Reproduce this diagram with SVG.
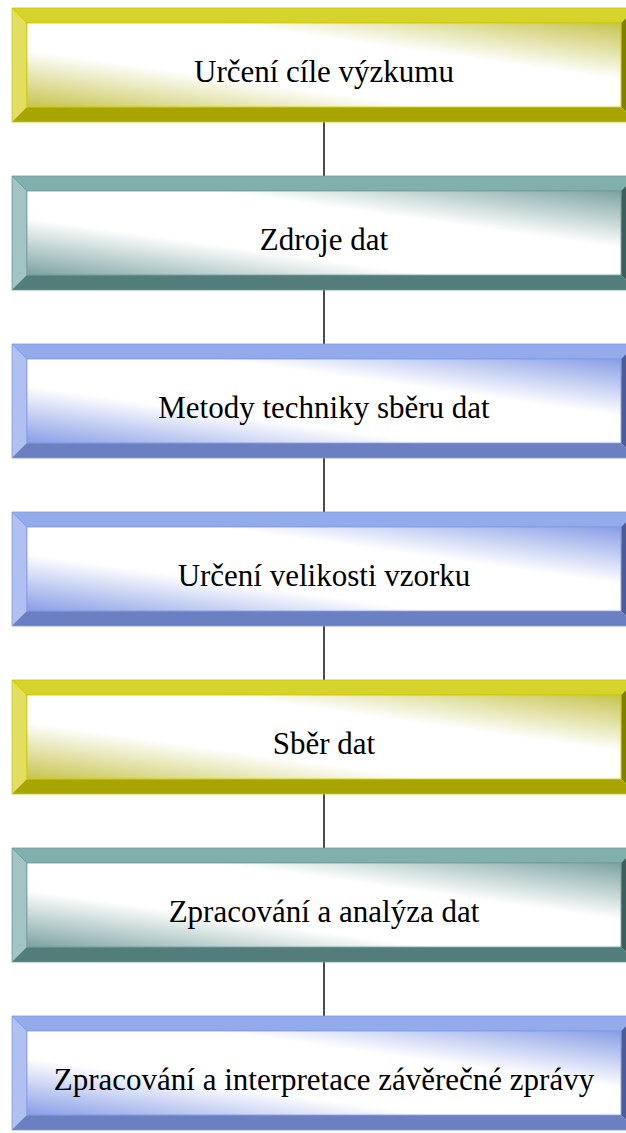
<svg xmlns="http://www.w3.org/2000/svg" width="626" height="1133" viewBox="0 0 626 1133">
<defs>
<linearGradient id="gY" x1="0" y1="1" x2="1" y2="0"><stop offset="0" stop-color="#C6C44E"/><stop offset="0.34" stop-color="#FFFFFF"/><stop offset="0.66" stop-color="#FFFFFF"/><stop offset="1" stop-color="#C6C44E"/></linearGradient>
<linearGradient id="gT" x1="0" y1="1" x2="1" y2="0"><stop offset="0" stop-color="#7CA3A0"/><stop offset="0.34" stop-color="#FFFFFF"/><stop offset="0.66" stop-color="#FFFFFF"/><stop offset="1" stop-color="#7CA3A0"/></linearGradient>
<linearGradient id="gB" x1="0" y1="1" x2="1" y2="0"><stop offset="0" stop-color="#889DE6"/><stop offset="0.34" stop-color="#FFFFFF"/><stop offset="0.66" stop-color="#FFFFFF"/><stop offset="1" stop-color="#889DE6"/></linearGradient>
</defs>
<style>
polygon, rect { stroke-width: 0.8; }
.y .top { fill: #D6D42C; stroke: #CCC800; }
.y .left { fill: #E1DE62; stroke: #CCC800; }
.y .bottom { fill: #A8A500; stroke: #CCC800; }
.y .right { fill: #7F7F00; stroke: #CCC800; }
.y .face { fill: url(#gY); stroke: #CCC800; }
.t .top { fill: #81AFAC; stroke: #6E9B98; }
.t .left { fill: #A2C5C3; stroke: #6E9B98; }
.t .bottom { fill: #537D7A; stroke: #6E9B98; }
.t .right { fill: #3E5E5B; stroke: #6E9B98; }
.t .face { fill: url(#gT); stroke: #6E9B98; }
.b .top { fill: #93ABEB; stroke: #8099E2; }
.b .left { fill: #AFC0F1; stroke: #8099E2; }
.b .bottom { fill: #6A80C2; stroke: #8099E2; }
.b .right { fill: #4B5C98; stroke: #8099E2; }
.b .face { fill: url(#gB); stroke: #8099E2; }
text { font-size: 31px; fill: #000; text-anchor: middle; }
.conn line { stroke: #000; stroke-width: 1.4; }
</style>
<g class="conn" id="connectors">
<line x1="324" y1="122" x2="324" y2="176"/>
<line x1="324" y1="290" x2="324" y2="344"/>
<line x1="324" y1="458" x2="324" y2="512"/>
<line x1="324" y1="626" x2="324" y2="680"/>
<line x1="324" y1="794" x2="324" y2="848"/>
<line x1="324" y1="962" x2="324" y2="1016"/>
</g>
<g id="n1" class="y" transform="translate(0,8)">
<polygon class="top" points="12,0 636,0 621,15 27,15"/><polygon class="left" points="12,0 27,15 27,99 12,114"/><polygon class="bottom" points="12,114 27,99 621,99 636,114"/><polygon class="right" points="636,0 636,114 621,99 621,15"/><rect class="face" x="27" y="15" width="594" height="84"/>
<text x="324" y="74" font-family="'Liberation Serif', 'Times New Roman', 'DejaVu Serif', serif">Určení cíle výzkumu</text></g>
<g id="n2" class="t" transform="translate(0,176)">
<polygon class="top" points="12,0 636,0 621,15 27,15"/><polygon class="left" points="12,0 27,15 27,99 12,114"/><polygon class="bottom" points="12,114 27,99 621,99 636,114"/><polygon class="right" points="636,0 636,114 621,99 621,15"/><rect class="face" x="27" y="15" width="594" height="84"/>
<text x="324" y="74" font-family="'Liberation Serif', 'Times New Roman', 'DejaVu Serif', serif">Zdroje dat</text></g>
<g id="n3" class="b" transform="translate(0,344)">
<polygon class="top" points="12,0 636,0 621,15 27,15"/><polygon class="left" points="12,0 27,15 27,99 12,114"/><polygon class="bottom" points="12,114 27,99 621,99 636,114"/><polygon class="right" points="636,0 636,114 621,99 621,15"/><rect class="face" x="27" y="15" width="594" height="84"/>
<text x="324" y="74" font-family="'Liberation Serif', 'Times New Roman', 'DejaVu Serif', serif">Metody techniky sběru dat</text></g>
<g id="n4" class="b" transform="translate(0,512)">
<polygon class="top" points="12,0 636,0 621,15 27,15"/><polygon class="left" points="12,0 27,15 27,99 12,114"/><polygon class="bottom" points="12,114 27,99 621,99 636,114"/><polygon class="right" points="636,0 636,114 621,99 621,15"/><rect class="face" x="27" y="15" width="594" height="84"/>
<text x="324" y="74" font-family="'Liberation Serif', 'Times New Roman', 'DejaVu Serif', serif">Určení velikosti vzorku</text></g>
<g id="n5" class="y" transform="translate(0,680)">
<polygon class="top" points="12,0 636,0 621,15 27,15"/><polygon class="left" points="12,0 27,15 27,99 12,114"/><polygon class="bottom" points="12,114 27,99 621,99 636,114"/><polygon class="right" points="636,0 636,114 621,99 621,15"/><rect class="face" x="27" y="15" width="594" height="84"/>
<text x="324" y="74" font-family="'Liberation Serif', 'Times New Roman', 'DejaVu Serif', serif">Sběr dat</text></g>
<g id="n6" class="t" transform="translate(0,848)">
<polygon class="top" points="12,0 636,0 621,15 27,15"/><polygon class="left" points="12,0 27,15 27,99 12,114"/><polygon class="bottom" points="12,114 27,99 621,99 636,114"/><polygon class="right" points="636,0 636,114 621,99 621,15"/><rect class="face" x="27" y="15" width="594" height="84"/>
<text x="324" y="74" font-family="'Liberation Serif', 'Times New Roman', 'DejaVu Serif', serif">Zpracování a analýza dat</text></g>
<g id="n7" class="b" transform="translate(0,1016)">
<polygon class="top" points="12,0 636,0 621,15 27,15"/><polygon class="left" points="12,0 27,15 27,99 12,114"/><polygon class="bottom" points="12,114 27,99 621,99 636,114"/><polygon class="right" points="636,0 636,114 621,99 621,15"/><rect class="face" x="27" y="15" width="594" height="84"/>
<text x="324" y="74" font-family="'Liberation Serif', 'Times New Roman', 'DejaVu Serif', serif">Zpracování a interpretace závěrečné zprávy</text></g>
</svg>
